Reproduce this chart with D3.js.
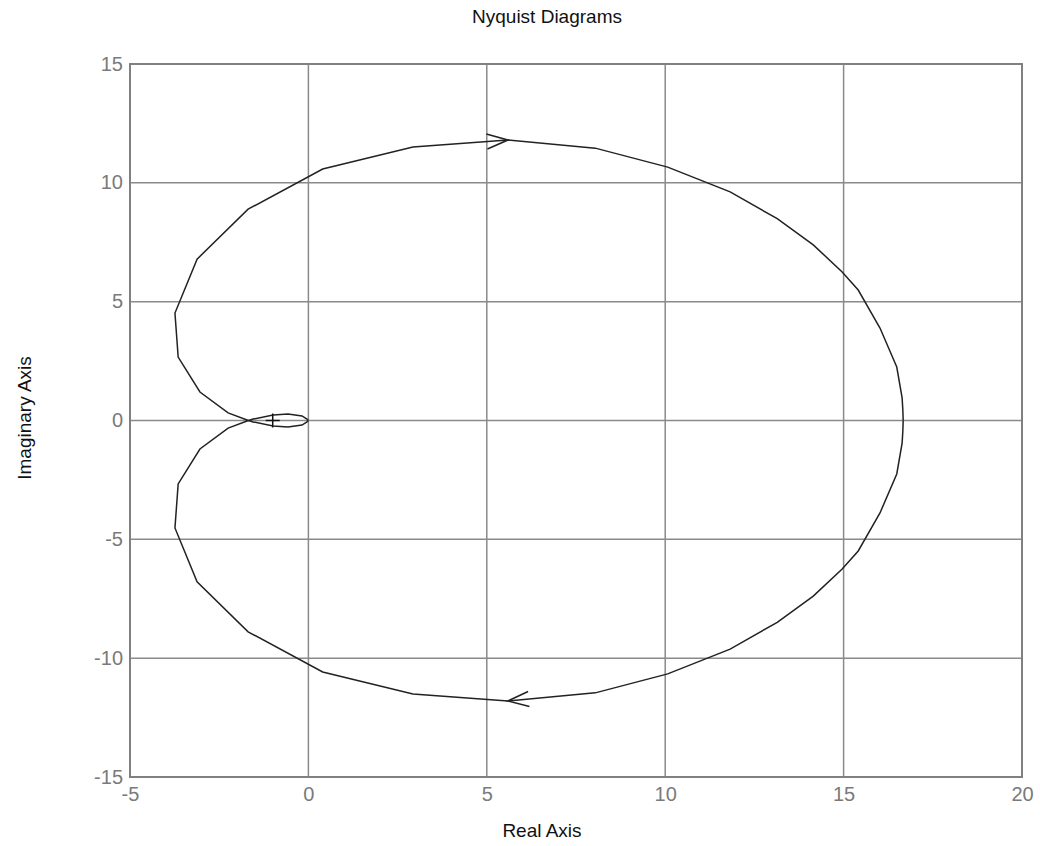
<!DOCTYPE html>
<html>
<head>
<meta charset="utf-8">
<script src="https://cdn.jsdelivr.net/npm/d3@7"></script>
<style>
  html, body { margin: 0; padding: 0; background: #fff; }
  svg { display: block; font-family: "Liberation Sans", Arial, sans-serif; }
</style>
</head>
<body>
<svg id="chart" width="1040" height="846"></svg>
<script>
// Nyquist locus for positive frequencies (w = 0 -> inf), real and imaginary parts
const reParts = [16.67, 16.66, 16.64, 16.49, 16.02, 15.41, 14.96, 14.15, 13.14, 11.82, 10.07, 8.04, 5.59, 2.93, 0.40, -1.69, -3.12, -3.74, -3.65, -3.04, -2.25, -1.70, -1.55, -0.99, -0.57, -0.18, -0.04, 0];
const imParts = [0, -0.45, -0.95, -2.25, -3.89, -5.49, -6.25, -7.39, -8.49, -9.62, -10.66, -11.46, -11.80, -11.51, -10.58, -8.89, -6.79, -4.52, -2.67, -1.20, -0.32, -0.01, 0.06, 0.23, 0.27, 0.19, 0.06, 0];

// Direction markers: index of the arrow tip on each branch
const arrowIndexPos = 12;   // on the w > 0 branch
const arrowIndexNeg = 12;   // on the mirrored w < 0 branch

// Critical point
const critical = [-1, 0];

const xTicks = [-5, 0, 5, 10, 15, 20];
const yTicks = [-15, -10, -5, 0, 5, 10, 15];
const xDomain = [-5, 20];
const yDomain = [-15, 15];

const title = "Nyquist Diagrams";
const xLabel = "Real Axis";
const yLabel = "Imaginary Axis";

const plotL = 130, plotR = 1022, plotT = 64, plotB = 777;

const svg = d3.select("#chart");
const x = d3.scaleLinear().domain(xDomain).range([plotL, plotR]);
const y = d3.scaleLinear().domain(yDomain).range([plotB, plotT]);

const gridColor = "#8a8a8a";
const tickColor = "#7a7a7a";

// grid
const grid = svg.append("g");
grid.selectAll("line.gx").data(xTicks).join("line").attr("class", "gx")
  .attr("x1", d => x(d)).attr("x2", d => x(d))
  .attr("y1", plotT).attr("y2", plotB)
  .attr("stroke", gridColor).attr("stroke-width", 1.5);
grid.selectAll("line.gy").data(yTicks).join("line").attr("class", "gy")
  .attr("y1", d => y(d)).attr("y2", d => y(d))
  .attr("x1", plotL).attr("x2", plotR)
  .attr("stroke", gridColor).attr("stroke-width", 1.5);

// axes (labels only, no tick marks); plain hyphen for negatives
const fmt = d => String(d);
const xAxis = d3.axisBottom(x).tickValues(xTicks).tickSize(0).tickPadding(10).tickFormat(fmt);
const yAxis = d3.axisLeft(y).tickValues(yTicks).tickSize(0).tickPadding(7).tickFormat(fmt);
const gx = svg.append("g").attr("transform", `translate(0,${plotB})`).call(xAxis);
const gy = svg.append("g").attr("transform", `translate(${plotL},0)`).call(yAxis);
[gx, gy].forEach(g => {
  g.select(".domain").remove();
  g.selectAll("text").attr("fill", tickColor).style("font-size", "20px")
    .style("font-family", "'Liberation Sans', Arial, sans-serif");
});
gy.selectAll("text").attr("dy", "0.3em");
gx.selectAll("text").attr("dy", "0.7em");

// frame
svg.append("rect")
  .attr("x", plotL).attr("y", plotT)
  .attr("width", plotR - plotL).attr("height", plotB - plotT)
  .attr("fill", "none").attr("stroke", "#808080").attr("stroke-width", 2);

// locus: w<0 branch is the mirror image of the w>0 branch
const posPts = reParts.map((r, i) => [r, imParts[i]]);
const negPts = posPts.map(([r, im]) => [r, -im]);
const line = d3.line().x(d => x(d[0])).y(d => y(d[1]));
const curveColor = "#222";

svg.append("path").attr("d", line(posPts))
  .attr("fill", "none").attr("stroke", curveColor).attr("stroke-width", 1.5);
svg.append("path").attr("d", line(negPts))
  .attr("fill", "none").attr("stroke", curveColor).attr("stroke-width", 1.5);

// arrowheads along direction of increasing frequency
function arrow(pts, i, reverse) {
  const tip = pts[i];
  const prev = reverse ? pts[i + 1] : pts[i - 1];
  const tx = x(tip[0]), ty = y(tip[1]);
  const px = x(prev[0]), py = y(prev[1]);
  const len = Math.hypot(tx - px, ty - py);
  const ux = (tx - px) / len, uy = (ty - py) / len;
  const L = 21, W = 7.5;
  const bx = tx - ux * L, by = ty - uy * L;
  const a = [bx - uy * W, by + ux * W];
  const b = [bx + uy * W, by - ux * W];
  svg.append("path")
    .attr("d", `M${a[0]},${a[1]}L${tx},${ty}L${b[0]},${b[1]}`)
    .attr("fill", "none").attr("stroke", curveColor).attr("stroke-width", 1.5);
}
arrow(posPts, arrowIndexPos, false);   // bottom, heading left
arrow(negPts, arrowIndexNeg, true);    // top, heading right

// critical point marker
const cx = x(critical[0]), cy = y(critical[1]);
svg.append("path")
  .attr("d", `M${cx - 7},${cy}H${cx + 7}M${cx},${cy - 7}V${cy + 7}`)
  .attr("stroke", "#111").attr("stroke-width", 1.5);

// titles
svg.append("text").attr("x", 547).attr("y", 23)
  .attr("text-anchor", "middle").attr("fill", "#111").style("font-size", "19px").text(title);
svg.append("text").attr("x", 542).attr("y", 837)
  .attr("text-anchor", "middle").attr("fill", "#111").style("font-size", "19px").text(xLabel);
svg.append("text").attr("transform", "translate(31,418) rotate(-90)")
  .attr("text-anchor", "middle").attr("fill", "#111").style("font-size", "19px").text(yLabel);
</script>
</body>
</html>
